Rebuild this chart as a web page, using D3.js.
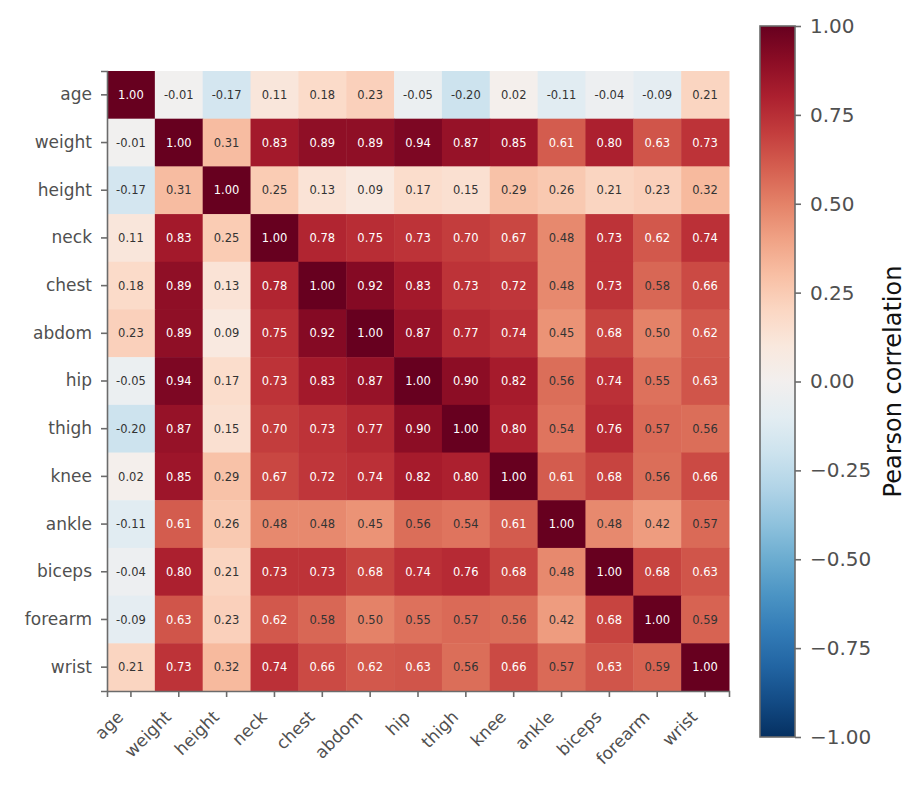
<!DOCTYPE html>
<html>
<head>
<meta charset="utf-8">
<script src="https://cdn.jsdelivr.net/npm/d3@7"></script>
<style>
  body { margin: 0; background: #fff; }
  text { font-family: "DejaVu Sans", sans-serif; }
</style>
</head>
<body>
<svg id="chart"></svg>
<script>
const variables = ["age", "weight", "height", "neck", "chest", "abdom", "hip", "thigh", "knee", "ankle", "biceps", "forearm", "wrist"];

const corr = [
  [1.00, -0.01, -0.17, 0.11, 0.18, 0.23, -0.05, -0.20, 0.02, -0.11, -0.04, -0.09, 0.21],
  [-0.01, 1.00, 0.31, 0.83, 0.89, 0.89, 0.94, 0.87, 0.85, 0.61, 0.80, 0.63, 0.73],
  [-0.17, 0.31, 1.00, 0.25, 0.13, 0.09, 0.17, 0.15, 0.29, 0.26, 0.21, 0.23, 0.32],
  [0.11, 0.83, 0.25, 1.00, 0.78, 0.75, 0.73, 0.70, 0.67, 0.48, 0.73, 0.62, 0.74],
  [0.18, 0.89, 0.13, 0.78, 1.00, 0.92, 0.83, 0.73, 0.72, 0.48, 0.73, 0.58, 0.66],
  [0.23, 0.89, 0.09, 0.75, 0.92, 1.00, 0.87, 0.77, 0.74, 0.45, 0.68, 0.50, 0.62],
  [-0.05, 0.94, 0.17, 0.73, 0.83, 0.87, 1.00, 0.90, 0.82, 0.56, 0.74, 0.55, 0.63],
  [-0.20, 0.87, 0.15, 0.70, 0.73, 0.77, 0.90, 1.00, 0.80, 0.54, 0.76, 0.57, 0.56],
  [0.02, 0.85, 0.29, 0.67, 0.72, 0.74, 0.82, 0.80, 1.00, 0.61, 0.68, 0.56, 0.66],
  [-0.11, 0.61, 0.26, 0.48, 0.48, 0.45, 0.56, 0.54, 0.61, 1.00, 0.48, 0.42, 0.57],
  [-0.04, 0.80, 0.21, 0.73, 0.73, 0.68, 0.74, 0.76, 0.68, 0.48, 1.00, 0.68, 0.63],
  [-0.09, 0.63, 0.23, 0.62, 0.58, 0.50, 0.55, 0.57, 0.56, 0.42, 0.68, 1.00, 0.59],
  [0.21, 0.73, 0.32, 0.74, 0.66, 0.62, 0.63, 0.56, 0.66, 0.57, 0.63, 0.59, 1.00]
];

const colorbarTicks = [-1, -0.75, -0.5, -0.25, 0, 0.25, 0.5, 0.75, 1];

const width = 923, height = 791;
const svg = d3.select("#chart").attr("width", width).attr("height", height);

// heatmap area
const hm = { left: 107, top: 71, right: 729, bottom: 691 };
const axisColor = "#6b6b6b";
const labelColor = "#505050";
const tickFont = 17;

const x = d3.scaleBand().domain(variables).range([hm.left, hm.right]);
const y = d3.scaleBand().domain(variables).range([hm.top, hm.bottom]);

// RdBu reversed: -1 blue, +1 red
const color = d3.scaleSequential(t => d3.interpolateRdBu(1 - t)).domain([-1, 1]);

const cells = [];
corr.forEach((row, i) => row.forEach((v, j) => cells.push({ r: variables[i], c: variables[j], v: v })));

svg.append("g")
  .selectAll("rect")
  .data(cells)
  .enter().append("rect")
  .attr("x", d => x(d.c))
  .attr("y", d => y(d.r))
  .attr("width", x.bandwidth() + 0.5)
  .attr("height", y.bandwidth() + 0.5)
  .attr("fill", d => color(d.v));

svg.append("g")
  .selectAll("text")
  .data(cells)
  .enter().append("text")
  .attr("x", d => x(d.c) + x.bandwidth() / 2)
  .attr("y", d => y(d.r) + y.bandwidth() / 2)
  .attr("dy", "0.36em")
  .attr("text-anchor", "middle")
  .attr("font-size", "11.5px")
  .attr("fill", d => Math.abs(d.v) > 0.6 ? "#ffffff" : "#333333")
  .text(d => d.v.toFixed(2));

// axes (left + bottom spines only)
const yAxis = svg.append("g")
  .attr("transform", `translate(${hm.left},0)`)
  .call(d3.axisLeft(y).tickSize(6).tickPadding(9));
const xAxis = svg.append("g")
  .attr("transform", `translate(0,${hm.bottom})`)
  .call(d3.axisBottom(x).tickSize(6).tickPadding(6));

[xAxis, yAxis].forEach(a => {
  a.select(".domain").attr("stroke", axisColor).attr("stroke-width", 1.6);
  a.selectAll(".tick line").attr("stroke", axisColor).attr("stroke-width", 1.6);
  a.selectAll(".tick text").attr("fill", labelColor).attr("font-size", tickFont + "px")
    .attr("font-family", "DejaVu Sans, sans-serif");
});

// rotated x labels, right end just left of the tick
xAxis.selectAll(".tick text")
  .attr("text-anchor", "end")
  .attr("x", 0).attr("y", 0).attr("dy", 0)
  .attr("transform", "translate(-6.5,27) rotate(-45)");

// colorbar
const cb = { x: 760, w: 35, top: 26, bottom: 737 };
const cbScale = d3.scaleLinear().domain([-1, 1]).range([cb.bottom, cb.top]);

const defs = svg.append("defs");
const grad = defs.append("linearGradient")
  .attr("id", "cbgrad")
  .attr("x1", 0).attr("y1", 1).attr("x2", 0).attr("y2", 0);
d3.range(0, 1.0001, 0.05).forEach(t => {
  grad.append("stop").attr("offset", t).attr("stop-color", color(-1 + 2 * t));
});

svg.append("rect")
  .attr("x", cb.x).attr("y", cb.top)
  .attr("width", cb.w).attr("height", cb.bottom - cb.top)
  .attr("fill", "url(#cbgrad)")
  .attr("stroke", axisColor).attr("stroke-width", 1.6);

const cbAxis = svg.append("g")
  .attr("transform", `translate(${cb.x + cb.w},0)`)
  .call(d3.axisRight(cbScale).tickValues(colorbarTicks).tickSize(6).tickPadding(9)
    .tickFormat(d => d3.format(".2f")(d).replace("-", "\u2212")));
cbAxis.select(".domain").remove();
cbAxis.selectAll(".tick line").attr("stroke", axisColor).attr("stroke-width", 1.6);
cbAxis.selectAll(".tick text").attr("fill", labelColor).attr("font-size", "20px")
  .attr("font-family", "DejaVu Sans, sans-serif");

svg.append("text")
  .attr("transform", `translate(901,${(cb.top + cb.bottom) / 2}) rotate(-90)`)
  .attr("text-anchor", "middle")
  .attr("font-size", "24px")
  .attr("font-family", "Open Sans, DejaVu Sans, sans-serif")
  .attr("fill", "#111")
  .text("Pearson correlation");
</script>
</body>
</html>
